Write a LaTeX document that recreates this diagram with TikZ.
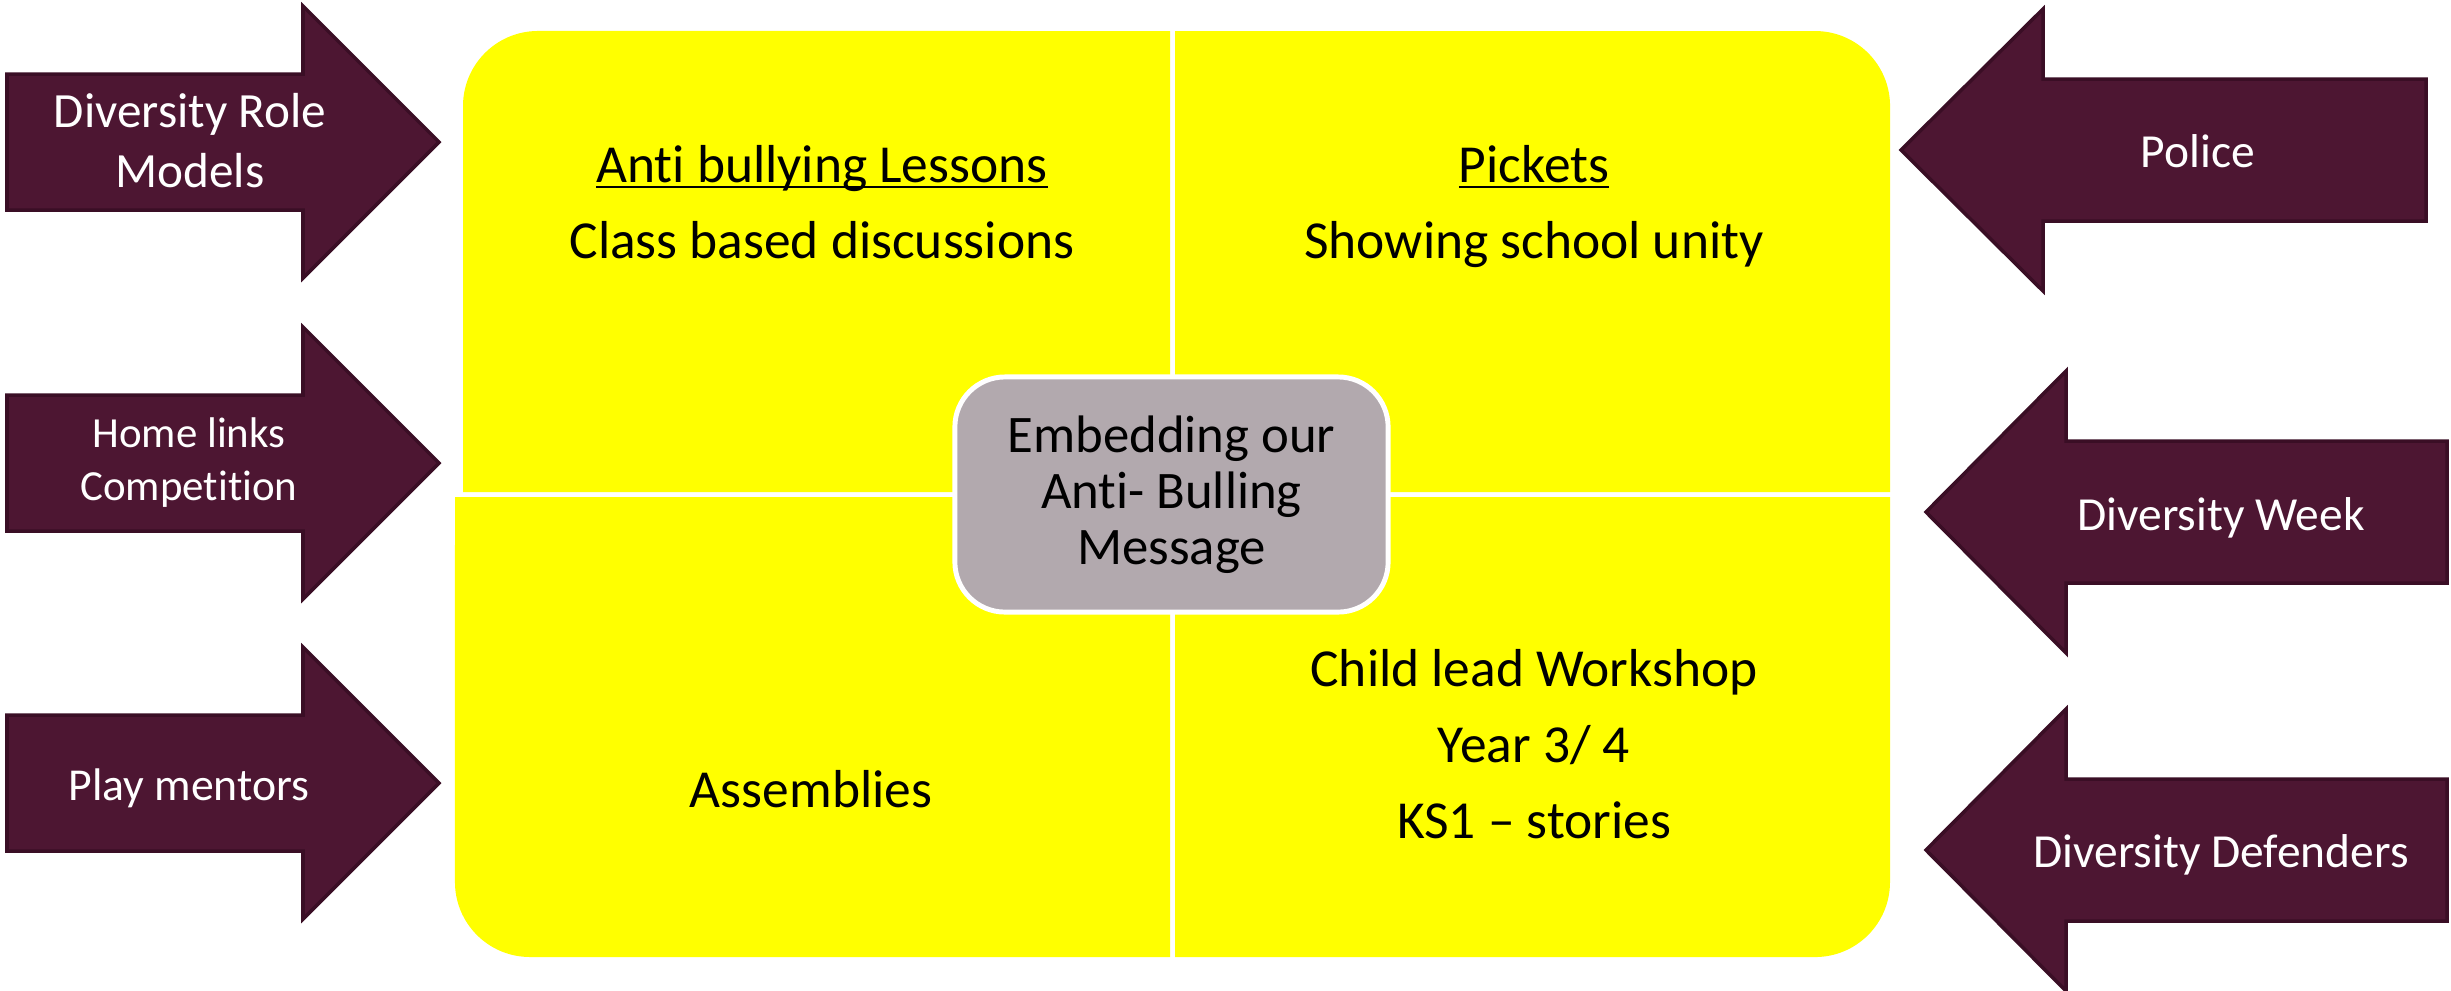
\documentclass[tikz,border=0pt]{standalone}
\usepackage{fontspec}
\setmainfont{Carlito}[Ligatures={TeX,NoCommon}]
\usepackage{tikz}
\usetikzlibrary{positioning,calc}

\definecolor{maroon}{RGB}{77,22,50}
\definecolor{maroonedge}{RGB}{58,14,37}
\definecolor{hubgray}{RGB}{178,169,174}
\definecolor{quadyellow}{RGB}{255,255,0}

\begin{document}
\begin{tikzpicture}[
    x=0.01cm, y=-0.01cm,
    quad/.style = {fill=quadyellow},
    blockarrow/.style = {fill=maroon, draw=maroonedge, line width=1pt, line join=miter},
    arrowtext/.style = {text=white, align=center, anchor=base, inner sep=0pt},
    quadtext/.style = {text=black, align=center, anchor=base, inner sep=0pt, font=\fontsize{15.2}{21.6}\selectfont},
    hub/.style = {rectangle, rounded corners=0.5cm, fill=hubgray, draw=white, line width=1.4pt, minimum width=4.33cm, minimum height=2.35cm, align=center, font=\fontsize{15}{16}\selectfont}
]
    \path[use as bounding box, fill=white] (0,0) rectangle (2451,990);

    % Quadrants
    \fill[quad] (463,492) -- (463,106) arc[start angle=180, end angle=90, radius=0.75cm] -- (1170,31) -- (1170,492) -- cycle;
    \fill[quad] (1175,31) -- (1815,31) arc[start angle=90, end angle=0, radius=0.75cm] -- (1890,492) -- (1175,492) -- cycle;
    \fill[quad] (455,497) -- (1170,497) -- (1170,957) -- (530,957) arc[start angle=270, end angle=180, radius=0.75cm] -- cycle;
    \fill[quad] (1175,497) -- (1890,497) -- (1890,882) arc[start angle=0, end angle=-90, radius=0.75cm] -- (1175,957) -- cycle;

    % Centre
    \node[hub] (hub) at (1171.5,494.5) {Embedding our\\Anti- Bulling\\Message};

    % Quadrant texts (base = last line)
    \node[quadtext] (lessons) at (822,258) {\underline{\smash{Anti bullying Lessons}}\\Class based discussions};
    \node[quadtext] (pickets) at (1534,258) {\underline{\smash{Pickets}}\\Showing school unity};
    \node[quadtext] (assemblies) at (811,807) {Assemblies};
    \node[quadtext] (workshop) at (1534,838) {Child lead Workshop\\Year 3/ 4\\KS1 -- stories};

    % Left arrows
    \draw[blockarrow] (7,74) -- (303,74) -- (303,6) -- (439,142) -- (303,278) -- (303,210) -- (7,210) -- cycle;
    \draw[blockarrow] (7,395) -- (303,395) -- (303,327) -- (439,463) -- (303,599) -- (303,531) -- (7,531) -- cycle;
    \draw[blockarrow] (7,715) -- (303,715) -- (303,647) -- (439,783) -- (303,919) -- (303,851) -- (7,851) -- cycle;

    % Right arrows
    \draw[blockarrow] (1901,150) -- (2043,9) -- (2043,79) -- (2426,79) -- (2426,221) -- (2043,221) -- (2043,291) -- cycle;
    \draw[blockarrow] (1926,512) -- (2066,371) -- (2066,441) -- (2447,441) -- (2447,583) -- (2066,583) -- (2066,653) -- cycle;
    \draw[blockarrow] (1926,850) -- (2066,709) -- (2066,779) -- (2447,779) -- (2447,921) -- (2066,921) -- (2066,991) -- cycle;

    % Arrow labels
    \node[arrowtext, font=\fontsize{14}{16.8}\selectfont] (rolemodels) at (190,187) {Diversity Role\\Models};
    \node[arrowtext, font=\fontsize{12.2}{14.8}\selectfont] (homelinks) at (189,500) {Home links\\Competition};
    \node[arrowtext, font=\fontsize{13}{15}\selectfont] (playmentors) at (189,800) {Play mentors};
    \node[arrowtext, font=\fontsize{13.5}{16}\selectfont] (police) at (2198,167) {Police};
    \node[arrowtext, font=\fontsize{13.5}{16}\selectfont] (divweek) at (2221,530) {Diversity Week};
    \node[arrowtext, font=\fontsize{13.5}{16}\selectfont] (defenders) at (2221,867) {Diversity Defenders};

\end{tikzpicture}
\end{document}
